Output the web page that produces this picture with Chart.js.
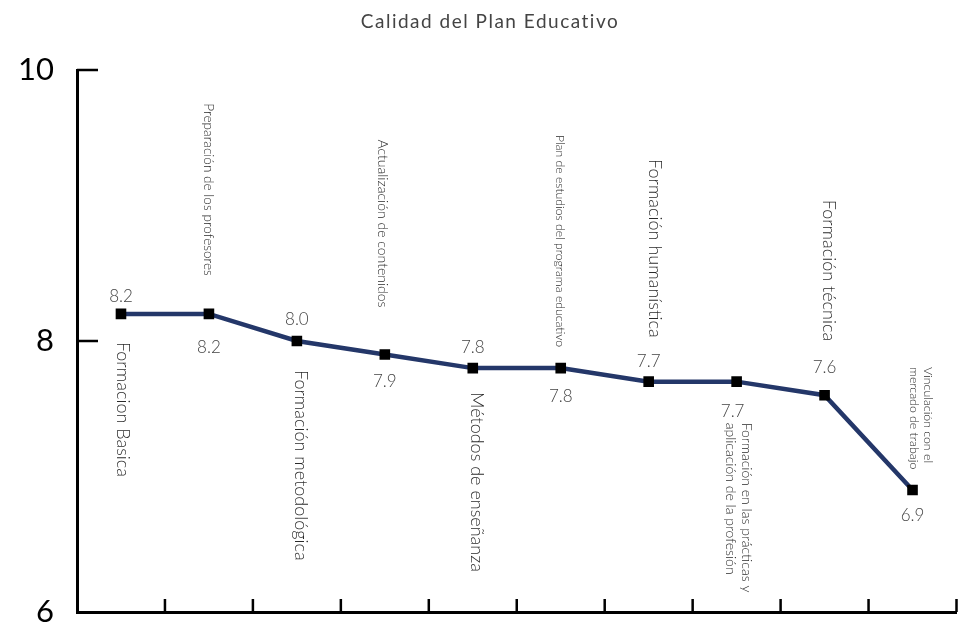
<!DOCTYPE html>
<html>
<head>
<meta charset="utf-8">
<title>Calidad del Plan Educativo</title>
<script src="https://cdn.jsdelivr.net/npm/chart.js@4.4.1/dist/chart.umd.min.js"></script>
<style>
  html, body { margin: 0; padding: 0; background: #fff; }
  #wrap { width: 964px; height: 630px; }
</style>
</head>
<body>
<div id="wrap"><canvas id="chart" width="964" height="630"></canvas></div>
<script>
const chartTitle = 'Calidad del Plan Educativo';
const categories = [
    'Formacion Basica',
    'Preparación de los profesores',
    'Formación metodológica',
    'Actualización de contenidos',
    'Métodos de enseñanza',
    'Plan de estudios del programa educativo',
    'Formación humanística',
    ['Formación en las prácticas y', 'aplicación de la profesión'],
    'Formación técnica',
    ['Vinculación con el', 'mercado de trabajo']
];
const scores = [8.2, 8.2, 8.0, 7.9, 7.8, 7.8, 7.7, 7.7, 7.6, 6.9];
const yTicks = [6, 8, 10];

// placement of the rotated category names, relative to each point
// anchor 'start' = text begins dy away from the point, 'end' = text ends there
const nameLayout = [
    { dx: 2,  dy: 28,   anchor: 'start', size: 18 },
    { dx: -1, dy: -38,  anchor: 'end',   size: 13.6 },
    { dx: 4,  dy: 29,   anchor: 'start', size: 18 },
    { dx: -2, dy: -47,  anchor: 'end',   size: 14 },
    { dx: 4,  dy: 24,   anchor: 'start', size: 18 },
    { dx: -1, dy: -21,  anchor: 'end',   size: 12.2 },
    { dx: 6,  dy: -44,  anchor: 'end',   size: 18 },
    { dx: 10, dy: 41,   anchor: 'start', size: 14, lh: 16 },
    { dx: 4,  dy: -54,  anchor: 'end',   size: 18 },
    { dx: 15, dy: -123, anchor: 'start', size: 12.3, lh: 14 }
];
const valueOffsets = [[0, -17], [0, 34], [0, -21], [0, 27], [0, -21], [0, 28], [0, -20], [-4, 30], [0, -28], [0, 25]];

const FONT = 'Lato, "Open Sans", sans-serif';

const decorations = {
    id: 'decorations',
    afterDraw(chart) {
        const ctx = chart.ctx;
        const x = chart.scales.x;
        const y = chart.scales.y;
        const area = chart.chartArea;

        // inward tick marks
        ctx.save();
        ctx.strokeStyle = '#000';
        ctx.lineWidth = 2.5;
        ctx.beginPath();
        yTicks.forEach(v => {
            if (v === y.min) return;
            const py = y.getPixelForValue(v);
            ctx.moveTo(area.left, py);
            ctx.lineTo(area.left + 21, py);
        });
        for (let i = 0; i < categories.length; i++) {
            const px = x.getPixelForValue(i + 0.5);
            ctx.moveTo(px, area.bottom);
            ctx.lineTo(px, area.bottom - 13);
        }
        ctx.stroke();
        ctx.restore();

        const meta = chart.getDatasetMeta(0);
        meta.data.forEach((pt, i) => {
            // value labels
            ctx.save();
            ctx.font = '300 17px ' + FONT;
            ctx.fillStyle = '#444';
            ctx.textAlign = 'center';
            ctx.textBaseline = 'middle';
            ctx.fillText(scores[i].toFixed(1), pt.x + valueOffsets[i][0], pt.y + valueOffsets[i][1]);
            ctx.restore();

            // rotated category names
            const lay = nameLayout[i];
            const lines = Array.isArray(categories[i]) ? categories[i] : [categories[i]];
            ctx.save();
            ctx.font = '300 ' + lay.size + 'px ' + FONT;
            ctx.fillStyle = '#2a2a2a';
            ctx.textBaseline = 'middle';
            ctx.textAlign = lay.anchor === 'start' ? 'left' : 'right';
            ctx.translate(pt.x + lay.dx, pt.y + lay.dy);
            ctx.rotate(Math.PI / 2);
            lines.forEach((line, j) => ctx.fillText(line, 0, j * (lay.lh || 0)));
            ctx.restore();
        });

        // title
        ctx.save();
        ctx.font = '19px ' + FONT;
        ctx.fillStyle = '#444';
        ctx.textAlign = 'center';
        ctx.textBaseline = 'middle';
        if ('letterSpacing' in ctx) ctx.letterSpacing = '1.5px';
        ctx.fillText(chartTitle, 490, 22);
        ctx.restore();
    }
};

new Chart(document.getElementById('chart'), {
    type: 'line',
    data: {
        labels: categories,
        datasets: [{
            data: scores,
            borderColor: '#243769',
            borderWidth: 4.5,
            tension: 0,
            pointStyle: 'rect',
            pointRadius: 7.5,
            pointBackgroundColor: '#000',
            pointBorderWidth: 0,
            fill: false
        }]
    },
    options: {
        responsive: false,
        animation: false,
        devicePixelRatio: 1,
        layout: { padding: { top: 70, right: 3, left: 0, bottom: 0 } },
        plugins: {
            legend: { display: false },
            title: { display: false },
            tooltip: { enabled: false }
        },
        scales: {
            x: {
                type: 'category',
                offset: true,
                ticks: { display: false },
                grid: { display: false },
                border: { display: true, color: '#000', width: 3 },
                afterFit: scale => { scale.height = 18; }
            },
            y: {
                min: 6,
                max: 10,
                afterBuildTicks: scale => { scale.ticks = yTicks.map(v => ({ value: v })); },
                ticks: { color: '#000', padding: 15, font: { size: 31, family: FONT } },
                grid: { display: false },
                border: { display: true, color: '#000', width: 3 },
                afterFit: scale => {
                    scale.width = 77;
                    scale.paddingTop = 0;
                    scale.paddingBottom = 0;
                }
            }
        }
    },
    plugins: [decorations]
});
</script>
</body>
</html>
